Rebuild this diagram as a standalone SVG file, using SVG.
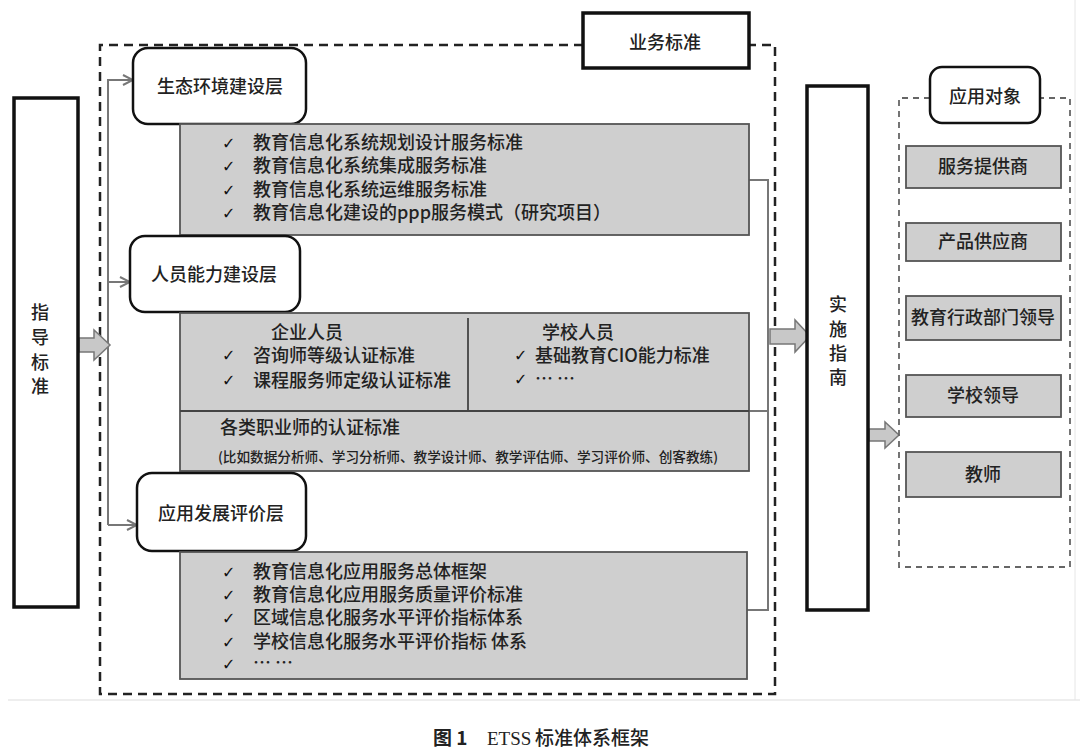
<svg xmlns="http://www.w3.org/2000/svg" width="1080" height="751" viewBox="0 0 1080 751">
<defs>
<style>
text{font-family:"Noto Sans CJK SC","Noto Sans",sans-serif;fill:#222;font-size:18px;font-weight:500}
.c{text-anchor:middle}
.thick{fill:#fff;stroke:#111;stroke-width:3.5}
.round{fill:#fff;stroke:#111;stroke-width:2.5}
.gray{fill:#cfcfcf;stroke:#555;stroke-width:1.8}
.dash{fill:none;stroke:#222;stroke-width:2.5;stroke-dasharray:9 6}
.dash2{fill:none;stroke:#666;stroke-width:1.8;stroke-dasharray:6 5}
.conn{fill:none;stroke:#777;stroke-width:2}
.blk{fill:#c8c8c8;stroke:#777;stroke-width:1.5}
.ck{font-family:"DejaVu Sans",sans-serif;font-size:16px;font-weight:bold;fill:#111}
.sm{font-size:13.5px}
</style>
<marker id="chev" viewBox="0 0 12 12" refX="11" refY="6" markerWidth="12" markerHeight="12" markerUnits="userSpaceOnUse" orient="auto">
<path d="M1,1 L11,6 L1,11" fill="none" stroke="#777" stroke-width="2"/>
</marker>
</defs>
<rect width="1080" height="751" fill="#fff"/>
<line x1="8" y1="700" x2="1080" y2="700" stroke="#ddd" stroke-width="1"/>
<line x1="1075" y1="0" x2="1075" y2="700" stroke="#e6e6e6" stroke-width="1"/>

<g id="outer-frame">
<path class="dash" d="M583,45 L100,45 L100,694 L775,694 L775,45 L750,45"/>
</g>

<g id="connectors">
<path class="conn" d="M108,525 L108,80 L133,80" marker-end="url(#chev)"/>
<path class="conn" d="M108,282 L130,282" marker-end="url(#chev)"/>
<path class="conn" d="M108,525 L137,525" marker-end="url(#chev)"/>
<path class="conn" d="M749,180 L768,180 L768,610 L747,610"/>
<path class="conn" d="M749,411 L768,411"/>
<path class="blk" d="M79,338 L94,338 L94,330 L110,345 L94,360 L94,352 L79,352 Z"/>
<path class="blk" d="M770,329 L795,329 L795,320 L810,336 L795,352 L795,344 L770,344 Z"/>
<path class="blk" d="M869,429 L885,429 L885,422 L899,435 L885,448 L885,441 L869,441 Z"/>
</g>

<g id="yewu-biaozhun">
<rect class="thick" x="583" y="13" width="166" height="55"/>
<text class="c" x="665" y="49">业务标准</text>
</g>

<g id="zhidao-biaozhun">
<rect class="thick" x="14" y="98" width="64" height="509"/>
<text class="c" x="40" y="319">指</text>
<text class="c" x="40" y="344">导</text>
<text class="c" x="40" y="369">标</text>
<text class="c" x="40" y="393">准</text>
</g>

<g id="shengtai-layer">
<rect class="round" x="133" y="48" width="173" height="76" rx="15"/>
<text class="c" x="220" y="93">生态环境建设层</text>
</g>
<g id="shengtai-content">
<rect class="gray" x="180" y="124" width="569" height="111"/>
<text class="ck" x="222" y="149">✓</text>
<text x="253" y="149">教育信息化系统规划设计服务标准</text>
<text class="ck" x="222" y="172">✓</text>
<text x="253" y="172">教育信息化系统集成服务标准</text>
<text class="ck" x="222" y="196">✓</text>
<text x="253" y="196">教育信息化系统运维服务标准</text>
<text class="ck" x="222" y="219">✓</text>
<text x="253" y="219">教育信息化建设的ppp服务模式（研究项目）</text>
</g>

<g id="renyuan-layer">
<rect class="round" x="130" y="236" width="170" height="76" rx="15"/>
<text class="c" x="214" y="281">人员能力建设层</text>
</g>
<g id="renyuan-content">
<rect class="gray" x="180" y="313" width="569" height="158"/>
<line x1="180" y1="411" x2="749" y2="411" stroke="#444" stroke-width="1.8"/>
<line x1="468" y1="318" x2="468" y2="411" stroke="#444" stroke-width="1.8"/>
<text class="c" x="307" y="339">企业人员</text>
<text class="ck" x="222" y="361">✓</text>
<text x="253" y="362">咨询师等级认证标准</text>
<text class="ck" x="222" y="386">✓</text>
<text x="253" y="387">课程服务师定级认证标准</text>
<text class="c" x="578" y="339">学校人员</text>
<text class="ck" x="514" y="361">✓</text>
<text x="535" y="362">基础教育CIO能力标准</text>
<text class="ck" x="514" y="385">✓</text>
<text x="535" y="385">… …</text>
<text x="220" y="434">各类职业师的认证标准</text>
<text class="sm" x="218" y="462" textLength="500" lengthAdjust="spacingAndGlyphs">(比如数据分析师、学习分析师、教学设计师、教学评估师、学习评价师、创客教练)</text>
</g>

<g id="yingyong-layer">
<rect class="round" x="137" y="473" width="169" height="78" rx="15"/>
<text class="c" x="221" y="520">应用发展评价层</text>
</g>
<g id="yingyong-content">
<rect class="gray" x="180" y="552" width="567" height="127"/>
<text class="ck" x="222" y="578">✓</text>
<text x="253" y="578">教育信息化应用服务总体框架</text>
<text class="ck" x="222" y="601">✓</text>
<text x="253" y="601">教育信息化应用服务质量评价标准</text>
<text class="ck" x="222" y="624">✓</text>
<text x="253" y="624">区域信息化服务水平评价指标体系</text>
<text class="ck" x="222" y="648">✓</text>
<text x="253" y="648">学校信息化服务水平评价指标 体系</text>
<text class="ck" x="222" y="670">✓</text>
<text x="253" y="669">… …</text>
</g>

<g id="shishi-zhinan">
<rect class="thick" x="807" y="86" width="61" height="524"/>
<text class="c" x="838" y="311">实</text>
<text class="c" x="838" y="336">施</text>
<text class="c" x="838" y="360">指</text>
<text class="c" x="838" y="384">南</text>
</g>

<g id="yingyong-duixiang">
<path class="dash2" d="M930,98 L899,98 L899,567 L1070,567 L1070,98 L1040,98"/>
<rect class="round" x="930" y="67" width="110" height="56" rx="12"/>
<text class="c" x="985" y="103">应用对象</text>
</g>
<g id="fuwu-tigongshang">
<rect class="gray" x="906" y="146" width="155" height="42"/>
<text class="c" x="983" y="173">服务提供商</text>
</g>
<g id="chanpin-gongyingshang">
<rect class="gray" x="906" y="223" width="155" height="38"/>
<text class="c" x="983" y="248">产品供应商</text>
</g>
<g id="jiaoyu-xingzheng">
<rect class="gray" x="906" y="296" width="155" height="44"/>
<text class="c" x="983" y="324">教育行政部门领导</text>
</g>
<g id="xuexiao-lingdao">
<rect class="gray" x="906" y="375" width="155" height="42"/>
<text class="c" x="983" y="402">学校领导</text>
</g>
<g id="jiaoshi">
<rect class="gray" x="906" y="452" width="155" height="45"/>
<text class="c" x="983" y="481">教师</text>
</g>

<g id="caption">
<text x="433" y="745" style="font-family:'Noto Sans CJK SC',sans-serif;font-weight:bold;font-size:19px">图 1</text>
<text x="487" y="745" style="font-family:'Liberation Serif',serif;font-weight:normal;font-size:19px">ETSS</text>
<text x="535" y="745" style="font-size:19px">标准体系框架</text>
</g>
</svg>
